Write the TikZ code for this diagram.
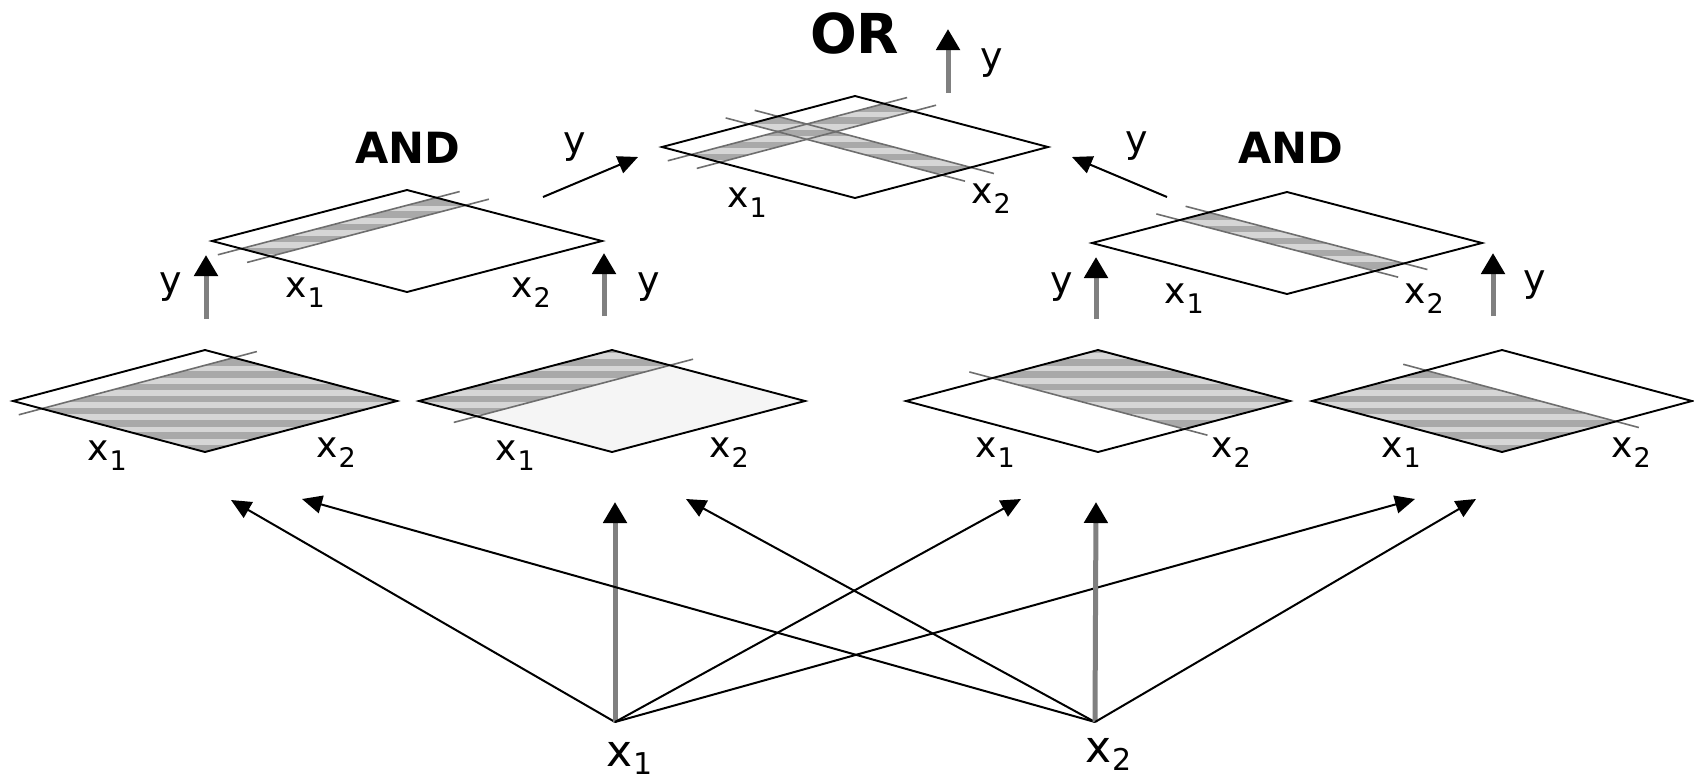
\documentclass[tikz,border=0pt]{standalone}
\usepackage{fontspec}
\setmainfont{DejaVu Sans}
\usetikzlibrary{arrows.meta,calc}

\definecolor{lightband}{HTML}{D6D6D6}
\definecolor{darkband}{HTML}{A9A9A9}
\definecolor{paleFill}{HTML}{F5F5F5}
\definecolor{guidegray}{HTML}{6E6E6E}
\definecolor{shaftgray}{HTML}{808080}

\newcommand\setd[3]{\def\dcx{#1}\def\dcy{#2}\def\dha{#3}\def\dhb{51}}
\newcommand\ptc[3]{\coordinate (#1) at ({\dcx-\dha+\dha*(#2)+\dha*(#3)},{\dcy+\dhb*((#3)-(#2))});}
\newcommand\hatchreg[4]{%
  \ptc{h1}{#1}{#3}\ptc{h2}{#2}{#3}\ptc{h3}{#2}{#4}\ptc{h4}{#1}{#4}
  \begin{scope}
    \clip (h1)--(h2)--(h3)--(h4)--cycle;
    \fill[lightband] (h1)--(h2)--(h3)--(h4)--cycle;
    \foreach \k in {0,...,9}{\fill[darkband] ({\dcx-\dha},{\dcy-\dhb-3+12.2*\k}) rectangle ++({2*\dha},6.3);}
  \end{scope}}
\newcommand\sline[1]{\ptc{g1}{#1}{-0.12}\ptc{g2}{#1}{1.12}\draw[guide] (g1)--(g2);}
\newcommand\tline[1]{\ptc{g1}{-0.12}{#1}\ptc{g2}{1.12}{#1}\draw[guide] (g1)--(g2);}
\newcommand\outl[1]{\ptc{#1L}{0}{0}\ptc{#1T}{1}{0}\ptc{#1R}{1}{1}\ptc{#1B}{0}{1}%
  \draw[edge] (#1L)--(#1T)--(#1R)--(#1B)--cycle;}
\newcommand\xs[1]{x\kern1pt\raisebox{-10pt}{\fontsize{27}{27}\selectfont #1}}
\newcommand\bxs[1]{x\kern1pt\raisebox{-8pt}{\fontsize{30}{30}\selectfont #1}}

\tikzset{
  edge/.style={draw=black, line width=1.9pt, line join=miter},
  guide/.style={draw=guidegray, line width=1.6pt},
  lab/.style={inner sep=0pt, anchor=base west, font=\fontsize{36}{36}\selectfont},
  biglab/.style={inner sep=0pt, anchor=base west, font=\fontsize{44}{44}\selectfont},
  ylab/.style={inner sep=0pt, anchor=base west, font=\fontsize{38}{38}\selectfont},
  gate/.style={inner sep=0pt, anchor=base west, font=\fontsize{43}{43}\selectfont\bfseries},
  biggate/.style={inner sep=0pt, anchor=base west, font=\fontsize{55}{55}\selectfont\bfseries},
  arr/.style={draw=black, line width=2pt, -{Triangle[length=20pt,width=18pt]}},
  varr/.style={draw=shaftgray, line width=5pt, -{Triangle[length=21pt,width=23pt,color=black]}},
}

\begin{document}
\begin{tikzpicture}[x=1pt,y=-1pt]
\useasboundingbox (0,0) rectangle (1694,780);

% ---- bottom diamond 1 ----
\setd{205}{401}{192}
\hatchreg{0}{1}{0.15}{1}
\tline{0.15}
\outl{da}
% ---- bottom diamond 2 ----
\setd{612}{401}{193}
\ptc{p1}{0}{0}\ptc{p2}{1}{0}\ptc{p3}{1}{1}\ptc{p4}{0}{1}
\fill[paleFill] (p1)--(p2)--(p3)--(p4)--cycle;
\hatchreg{0}{1}{0}{0.30}
\tline{0.30}
\outl{db}
% ---- bottom diamond 3 ----
\setd{1098}{401}{192}
\hatchreg{0.45}{1}{0}{1}
\sline{0.45}
\outl{dc}
% ---- bottom diamond 4 ----
\setd{1502}{401}{190}
\hatchreg{0}{0.60}{0}{1}
\sline{0.60}
\outl{dd}
% ---- AND left ----
\setd{407}{241}{195}
\hatchreg{0}{1}{0.15}{0.30}
\tline{0.15}\tline{0.30}
\outl{ga}
% ---- AND right ----
\setd{1287}{243}{195}
\hatchreg{0.45}{0.60}{0}{1}
\sline{0.45}\sline{0.60}
\outl{gb}
% ---- OR ----
\setd{855}{147}{193}
\hatchreg{0}{1}{0.15}{0.30}
\hatchreg{0.45}{0.60}{0}{1}
\tline{0.15}\tline{0.30}\sline{0.45}\sline{0.60}
\outl{go}

% ---- diamond labels ----
\node[lab] (da1) at (87,460) {\xs{1}};
\node[lab] (da2) at (316,457) {\xs{2}};
\node[lab] (db1) at (495,460) {\xs{1}};
\node[lab] (db2) at (709,457) {\xs{2}};
\node[lab] (dc1) at (975,457) {\xs{1}};
\node[lab] (dc2) at (1211,457) {\xs{2}};
\node[lab] (dd1) at (1381,457) {\xs{1}};
\node[lab] (dd2) at (1611,457) {\xs{2}};
\node[lab] (ga1) at (285,297) {\xs{1}};
\node[lab] (ga2) at (511,297) {\xs{2}};
\node[lab] (gb1) at (1164,303) {\xs{1}};
\node[lab] (gb2) at (1404,303) {\xs{2}};
\node[lab] (go1) at (727,207) {\xs{1}};
\node[lab] (go2) at (971,203) {\xs{2}};

% ---- gate names ----
\node[gate] (andL) at (355,163) {AND};
\node[gate] (andR) at (1238,163) {AND};
\node[biggate] (orN) at (810,53) {OR};

% ---- inputs ----
\node[biglab] (in1) at (606,766) {\bxs{1}};
\node[biglab] (in2) at (1085,762) {\bxs{2}};
\coordinate (c1) at (615,722);
\coordinate (c2) at (1095,722);

% targets under bottom diamonds
\coordinate (ta1) at (231,500);
\coordinate (ta2) at (302,499);
\coordinate (tb1) at (615,502);
\coordinate (tb2) at (686,499);
\coordinate (tc1) at (1021,499);
\coordinate (tc2) at (1096,502);
\coordinate (td1) at (1415,499);
\coordinate (td2) at (1476,499);

\draw[arr] (c1) -- (ta1);
\draw[varr] (c1) -- (tb1);
\draw[arr] (c1) -- (tc1);
\draw[arr] (c1) -- (td1);
\draw[arr] (c2) -- (ta2);
\draw[arr] (c2) -- (tb2);
\draw[varr] (c2) -- (tc2);
\draw[arr] (c2) -- (td2);

% ---- bottom -> AND arrows ----
\coordinate (ya0) at (206,319); \coordinate (ya1) at (206,255);
\coordinate (yb0) at (604,316); \coordinate (yb1) at (604,253);
\coordinate (yc0) at (1096,319); \coordinate (yc1) at (1096,257);
\coordinate (yd0) at (1493,316); \coordinate (yd1) at (1493,253);
\draw[varr] (ya0) -- (ya1);
\draw[varr] (yb0) -- (yb1);
\draw[varr] (yc0) -- (yc1);
\draw[varr] (yd0) -- (yd1);
\node[ylab] (yla) at (159,293) {y};
\node[ylab] (ylb) at (637,293) {y};
\node[ylab] (ylc) at (1050,293) {y};
\node[ylab] (yld) at (1523,291) {y};

% ---- AND -> OR arrows ----
\coordinate (ao0) at (543,197); \coordinate (ao1) at (638,157);
\coordinate (bo0) at (1167,197); \coordinate (bo1) at (1072,157);
\draw[arr] (ao0) -- (ao1);
\draw[arr] (bo0) -- (bo1);
\node[ylab] (ylo1) at (563,153) {y};
\node[ylab] (ylo2) at (1125,152) {y};

% ---- OR output ----
\coordinate (oo0) at (948,93); \coordinate (oo1) at (948,29);
\draw[varr] (oo0) -- (oo1);
\node[ylab] (ylout) at (980,69) {y};
\end{tikzpicture}
\end{document}
